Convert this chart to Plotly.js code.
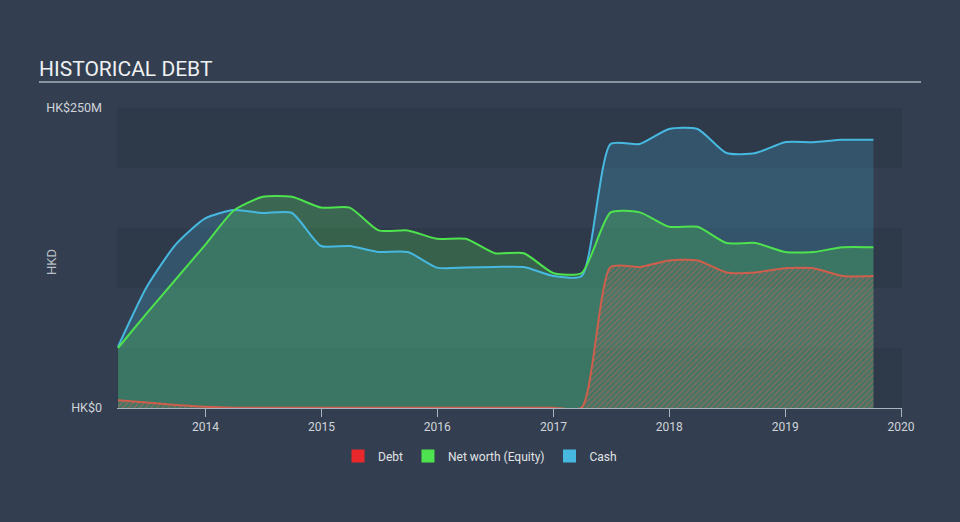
<!DOCTYPE html>
<html>
<head>
<meta charset="utf-8">
<script src="https://cdn.plot.ly/plotly-3.0.1.min.js"></script>
<style>html,body{margin:0;padding:0;background:#333f50;}#chart{width:960px;height:522px;}</style>
</head>
<body>
<div id="chart"></div>
<script>
// Quarterly dates
const dates = [
  '2013-03-31','2013-06-30','2013-09-30','2013-12-31',
  '2014-03-31','2014-06-30','2014-09-30','2014-12-31',
  '2015-03-31','2015-06-30','2015-09-30','2015-12-31',
  '2016-03-31','2016-06-30','2016-09-30','2016-12-31',
  '2017-03-31','2017-06-30','2017-09-30','2017-12-31',
  '2018-03-31','2018-06-30','2018-09-30','2018-12-31',
  '2019-03-31','2019-06-30','2019-10-06'
];
// Values in HK$ millions
const cash = [
  51, 101, 136.5, 158,
  165, 162.5, 162.5, 135,
  135, 130, 130, 117,
  117, 117.5, 117.5, 110,
  110, 220, 220, 232.5,
  232.5, 212.5, 212.5, 221.5,
  221.5, 223.5, 223.5
];
const netWorth = [
  50, 79, 107.5, 136,
  164.6, 176, 176, 167,
  167, 148, 148, 141,
  141, 129, 129, 112.5,
  112.5, 163, 163, 151,
  151, 137.5, 137.5, 130,
  130, 134, 134
];
const debt = [
  6.5, 4.5, 2.5, 1,
  0.3, 0.3, 0.3, 0.3,
  0.3, 0.3, 0.3, 0.3,
  0.3, 0.3, 0.3, 0.3,
  0.3, 117.5, 117.5, 123,
  123, 113, 113, 116.5,
  116.5, 110, 110
];
const seriesNames = ['Debt', 'Net worth (Equity)', 'Cash'];
const yTickVals = [0, 250];
const yTickText = ['HK$0', 'HK$250M'];
const chartTitle = 'HISTORICAL DEBT';
const yTitle = 'HKD';

const C_DEBT = '#e8282b', C_NW = '#4ee34e', C_CASH = '#47b8e0';
const lineShape = {shape: 'spline', smoothing: 0.6};

const traces = [
  {x: dates, y: cash, type: 'scatter', mode: 'lines', fill: 'tozeroy',
   fillcolor: 'rgba(71,184,224,0.22)', line: Object.assign({width: 0, color: C_CASH}, lineShape),
   showlegend: false, hoverinfo: 'skip'},
  {x: dates, y: netWorth, type: 'scatter', mode: 'lines', fill: 'tozeroy',
   fillcolor: 'rgba(85,220,85,0.25)', line: Object.assign({width: 0, color: C_NW}, lineShape),
   showlegend: false, hoverinfo: 'skip'},
  {x: dates, y: debt, type: 'scatter', mode: 'lines', fill: 'tozeroy',
   fillcolor: 'rgba(0,0,0,0)',
   fillpattern: {shape: '/', fgcolor: 'rgba(215,95,80,0.45)', bgcolor: 'rgba(110,110,105,0.15)', size: 4, solidity: 0.35},
   line: Object.assign({width: 0, color: C_DEBT}, lineShape),
   showlegend: false, hoverinfo: 'skip'},
  {x: dates, y: cash, type: 'scatter', mode: 'lines',
   line: Object.assign({width: 2, color: C_CASH}, lineShape), showlegend: false},
  {x: dates, y: netWorth, type: 'scatter', mode: 'lines',
   line: Object.assign({width: 2, color: C_NW}, lineShape), showlegend: false},
  {x: dates, y: debt, type: 'scatter', mode: 'lines',
   line: Object.assign({width: 2, color: '#cf5f4c'}, lineShape), showlegend: false},
  // legend entries
  {x: [null], y: [null], type: 'scatter', mode: 'markers', name: seriesNames[0],
   marker: {symbol: 'square', size: 13, color: C_DEBT}},
  {x: [null], y: [null], type: 'scatter', mode: 'markers', name: seriesNames[1],
   marker: {symbol: 'square', size: 13, color: C_NW}},
  {x: [null], y: [null], type: 'scatter', mode: 'markers', name: seriesNames[2],
   marker: {symbol: 'square', size: 13, color: C_CASH}}
];

const bandColor = 'rgba(30,38,50,0.22)';
const bands = [[0, 50], [100, 150], [200, 250]].map(b => ({
  type: 'rect', xref: 'paper', yref: 'y', x0: 0, x1: 1, y0: b[0], y1: b[1],
  fillcolor: bandColor, line: {width: 0}, layer: 'below'
}));

const layout = {
  width: 960, height: 522,
  paper_bgcolor: '#333f50', plot_bgcolor: 'rgba(0,0,0,0)',
  margin: {l: 117, r: 58, t: 108, b: 114},
  font: {family: 'Roboto, "Open Sans", sans-serif', color: '#d0d4d9', size: 12},
  title: {text: chartTitle, x: 39/960, xref: 'container', xanchor: 'left',
          y: 1 - 69/522, yref: 'container', yanchor: 'middle',
          font: {size: 21, color: '#eef0f2', family: 'Roboto, sans-serif'}},
  xaxis: {type: 'date', range: ['2013-03-28', '2020-01-04'],
          dtick: 'M12', tick0: '2014-01-01', tickformat: '%Y',
          showgrid: false, zeroline: false, showline: true, linecolor: '#a9b3bd', linewidth: 1,
          ticks: 'outside', ticklen: 8, tickcolor: '#a9b3bd', tickwidth: 1,
          tickfont: {size: 12, color: '#d0d4d9'}, fixedrange: true},
  yaxis: {range: [0, 250], tickvals: yTickVals, ticktext: yTickText,
          showgrid: false, zeroline: false, showline: false, ticks: '',
          ticklabelstandoff: 14,
          tickfont: {size: 12.5, color: '#d0d4d9'}, fixedrange: true},
  shapes: bands.concat([
    {type: 'line', xref: 'paper', yref: 'paper', x0: (39-117)/785, x1: (921-117)/785,
     y0: (408-82)/300, y1: (408-82)/300, line: {color: '#aab2bb', width: 1.5}}
  ]),
  annotations: [
    {text: yTitle, xref: 'paper', yref: 'paper', x: (51-117)/785, y: (408-262)/300,
     xanchor: 'center', yanchor: 'middle', textangle: -90, showarrow: false,
     font: {size: 13, color: '#b8bec6'}}
  ],
  legend: {orientation: 'h', xref: 'container', yref: 'container', x: 0.5, xanchor: 'center',
           y: 1 - 456/522, yanchor: 'middle', font: {size: 12, color: '#e0e3e6'},
           bgcolor: 'rgba(0,0,0,0)', itemclick: false, itemdoubleclick: false},
  hovermode: false
};

Plotly.newPlot('chart', traces, layout, {displayModeBar: false, staticPlot: true});
</script>
</body>
</html>
